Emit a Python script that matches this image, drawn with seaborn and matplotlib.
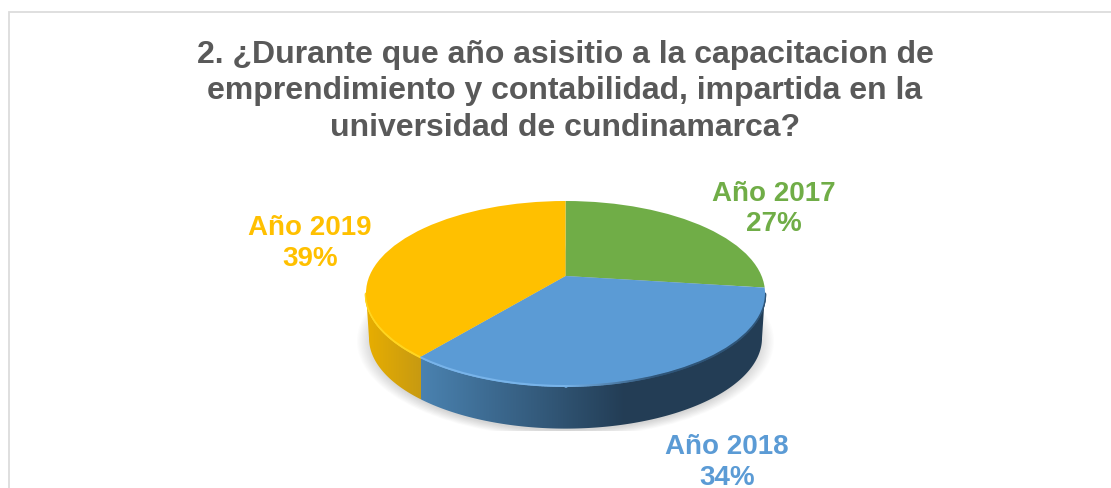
import numpy as np
import matplotlib
matplotlib.use("Agg")
import matplotlib.pyplot as plt
import seaborn as sns
from matplotlib.patches import Ellipse, Polygon
from matplotlib.collections import LineCollection
from matplotlib.colors import to_rgb

categories = ["Año 2017", "Año 2018", "Año 2019"]
percent = [27, 34, 39]
title_text = ("2. ¿Durante que año asisitio a la capacitacion de\n"
              "emprendimiento y contabilidad, impartida en la\n"
              "universidad de cundinamarca?")

sns.set_theme(style="white")
plt.rcParams["font.family"] = ["Liberation Sans", "DejaVu Sans"]
palette = sns.color_palette(["#70AD47", "#5B9BD5", "#FFC000"])

W, H = 1111, 488
fig = plt.figure(figsize=(W / 100, H / 100), dpi=100, facecolor="white")

# page-space layer: frame
bg = fig.add_axes([0, 0, 1, 1], zorder=0)
bg.set_xlim(0, W); bg.set_ylim(H, 0); bg.axis("off")
bg.plot([8.5, 8.5, W], [H, 12, 12], color="#DCDCDC", lw=1.3, solid_joinstyle="miter")

# pie layer: 1 data unit = rim radius
cx, cy, rx, ry = 565.5, 293, 199.5, 92
ext = 1.5
ax = fig.add_axes([(cx - ext * rx) / W, 1 - (cy + ext * ry) / H, 2 * ext * rx / W, 2 * ext * ry / H], zorder=1)
ax.patch.set_alpha(0)

apex = 17 / ry   # slice lines meet above the rim's centre (perspective)
depth = 45 / ry

wedges, _ = ax.pie(percent, colors=palette, startangle=90, counterclock=False,
                   radius=4, center=(0, apex), wedgeprops=dict(lw=0))
rim = Ellipse((0, 0), 2, 2, transform=ax.transData)
for w in wedges:
    w.set_clip_on(True)
    w.set_clip_path(rim)
    w.set_zorder(5)

# where the 2018/2019 boundary meets the rim
ang = np.deg2rad(90 - 3.6 * (percent[0] + percent[1]))
dx, dy = np.cos(ang), np.sin(ang)
b = apex * dy
t = -b + np.sqrt(b * b - (apex * apex - 1))
split_x = t * dx

# side wall: one gradient image clipped to the wall outline
def lerp(c0, c1, f):
    c0, c1 = np.array(to_rgb(c0)), np.array(to_rgb(c1))
    return c0 + (c1 - c0) * np.clip(f, 0, 1)

gx = np.linspace(-1, 1, 800)
grad = np.array([lerp("#E8AE00", "#C79A12", (x + 1) / (split_x + 1)) if x < split_x
                 else lerp("#4A82B0", "#233D55", (x - split_x) / (0.3 - split_x)) for x in gx])[None, :, :]
img = ax.imshow(grad, extent=(-1, 1, -depth - 1.05, 0.05), aspect="auto", zorder=3, interpolation="nearest")
th = np.linspace(np.pi, 2 * np.pi, 400)
wall_xy = np.vstack([np.c_[np.cos(th), np.sin(th)],
                     np.c_[0.985 * np.cos(th[::-1]), 0.985 * np.sin(th[::-1]) - depth]])
wall = Polygon(wall_xy, closed=True, transform=ax.transData, fc="none", ec="none")
ax.add_patch(wall)
img.set_clip_path(wall)

ax.set_aspect("auto")
ax.set_xlim(-ext, ext); ax.set_ylim(-ext, ext); ax.axis("off")

# soft shadow
for s in np.linspace(1.045, 0.97, 14):
    ax.add_patch(Ellipse((0, -depth - 0.035), 2 * s, 2 * s, fc="#808080", ec="none", alpha=0.024, zorder=1))

# bevel highlights on the rim
ex, ey = np.cos(th), np.sin(th) - 0.008
pts = np.c_[ex, ey]
segs = np.stack([pts[:-1], pts[1:]], axis=1)
mid = (ex[:-1] + ex[1:]) / 2
seg_cols = [to_rgb("#FFD520") if m < split_x else lerp("#78B4EA", "#2F5578", (m - 0.0) / 0.45) if m > 0.0
            else to_rgb("#78B4EA") for m in mid]
ax.add_collection(LineCollection(segs, colors=seg_cols, linewidths=1.8, zorder=4, capstyle="round"))

# text
top_ax = fig.add_axes([0, 0, 1, 1], zorder=2)
top_ax.set_xlim(0, W); top_ax.set_ylim(H, 0); top_ax.axis("off")
top_ax.text(565, 91.5, title_text, ha="center", va="center", fontsize=23, fontweight="bold",
            color="#595959", linespacing=1.27)
label_pos = [(773.5, 209), (727, 462.5), (310, 243.5)]
for name, p, col, (lx, ly) in zip(categories, percent, palette, label_pos):
    top_ax.text(lx, ly, f"{name}\n{p}%", ha="center", va="center", fontsize=20, fontweight="bold",
                color=col, linespacing=1.24, clip_on=False)

fig.savefig("out.png", dpi=100)
